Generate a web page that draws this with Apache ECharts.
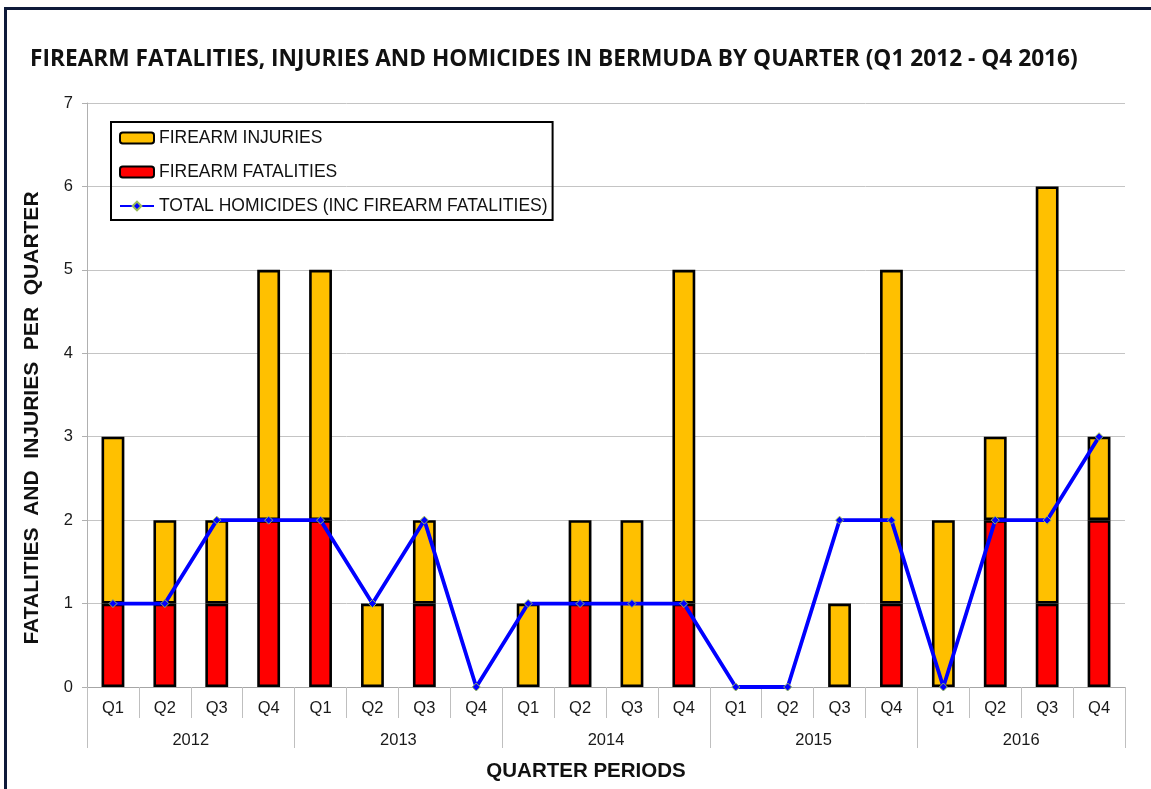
<!DOCTYPE html>
<html><head><meta charset="utf-8">
<script src="https://cdn.jsdelivr.net/npm/echarts@6/dist/echarts.min.js"></script>
<style>
html,body{margin:0;padding:0;background:#fff;}
#c{width:1151px;height:789px;}
#frame{position:absolute;left:4px;top:7px;width:1300px;height:900px;border-left:3px solid #0E1A3A;border-top:3px solid #0E1A3A;pointer-events:none;}
</style></head>
<body>
<div id="c"></div>
<div id="frame"></div>
<script>
const quarters = ['Q1','Q2','Q3','Q4','Q1','Q2','Q3','Q4','Q1','Q2','Q3','Q4','Q1','Q2','Q3','Q4','Q1','Q2','Q3','Q4'];
const years = ['2012','2013','2014','2015','2016'];
const fatalities = [1,1,1,2, 2,0,1,0, 0,1,0,1, 0,0,0,1, 0,2,1,2];
const injuries   = [2,1,1,3, 3,1,1,0, 1,1,2,4, 0,0,1,4, 2,1,5,1];
const homicides  = [1,1,2,2, 2,1,2,0, 1,1,1,1, 0,0,2,2, 0,2,2,3];

const hideZero = arr => arr.map(v => v === 0 ? '-' : v);
const chart = echarts.init(document.getElementById('c'));
const labelFont = {fontFamily:'Liberation Sans, Arial, sans-serif', fontSize:16.5, color:'#1a1a1a'};
const nameFont = {fontFamily:'Liberation Sans, Arial, sans-serif', fontWeight:'bold', fontSize:20.5, color:'#111'};
chart.setOption({
  animation:false,
  title:{text:'FIREARM FATALITIES, INJURIES AND HOMICIDES IN BERMUDA BY QUARTER (Q1 2012 - Q4 2016)',
    left:30, top:48, padding:0, textStyle:{fontFamily:'Open Sans, sans-serif', fontWeight:'bold', fontSize:22.7, color:'#111'}},
  legend:{orient:'vertical', left:111, top:122, padding:[7,5,5,8], itemGap:16,
    borderColor:'#000', borderWidth:2, itemWidth:34, itemHeight:11,
    textStyle:{fontFamily:'Liberation Sans, Arial, sans-serif', fontSize:17.5, color:'#111'},
    data:['FIREARM INJURIES','FIREARM FATALITIES','TOTAL HOMICIDES (INC FIREARM FATALITIES)']},
  grid:{left:87, right:26, top:103, bottom:102},
  xAxis:[{type:'category', data:quarters, position:'bottom',
      axisLine:{show:true, lineStyle:{color:'#a6a6a6'}},
      axisTick:{show:true, length:31, interval:0, lineStyle:{color:'#bfbfbf'}},
      axisLabel:Object.assign({show:true, margin:13, interval:0}, labelFont),
      name:'QUARTER PERIODS', nameLocation:'middle', nameGap:74,
      nameTextStyle:Object.assign({padding:[0,40,0,0]}, nameFont)},
    {type:'category', data:years, position:'bottom', offset:0,
      axisLine:{show:false},
      axisTick:{show:true, length:61, interval:0, lineStyle:{color:'#bfbfbf'}},
      axisLabel:Object.assign({show:true, margin:45, interval:0}, labelFont)}],
  yAxis:{type:'value', min:0, max:7, interval:1,
    axisLine:{show:true, lineStyle:{color:'#b0b0b0'}},
    axisTick:{show:true, length:5, lineStyle:{color:'#b0b0b0'}},
    splitLine:{lineStyle:{color:'#c4c4c4'}},
    axisLabel:Object.assign({margin:14}, labelFont),
    name:'FATALITIES  AND  INJURIES  PER  QUARTER', nameLocation:'middle', nameGap:44,
    nameTextStyle:Object.assign({}, nameFont, {fontSize:21, padding:[0,46,0,0]})},
  series:[
    {name:'FIREARM FATALITIES', type:'bar', stack:'a', data:hideZero(fatalities), barWidth:'44%',
      itemStyle:{color:'#FF0000', borderColor:'#000', borderWidth:2.6}},
    {name:'FIREARM INJURIES', type:'bar', stack:'a', data:hideZero(injuries), barWidth:'44%',
      itemStyle:{color:'#FFC000', borderColor:'#000', borderWidth:2.6}},
    {name:'TOTAL HOMICIDES (INC FIREARM FATALITIES)', type:'line', data:homicides, z:5,
      symbol:'diamond', symbolSize:8, showAllSymbol:true,
      lineStyle:{color:'#0000FF', width:3.8},
      itemStyle:{color:'#0000FF', borderColor:'#9BBB59', borderWidth:1}}
  ]
});
</script>
</body></html>
